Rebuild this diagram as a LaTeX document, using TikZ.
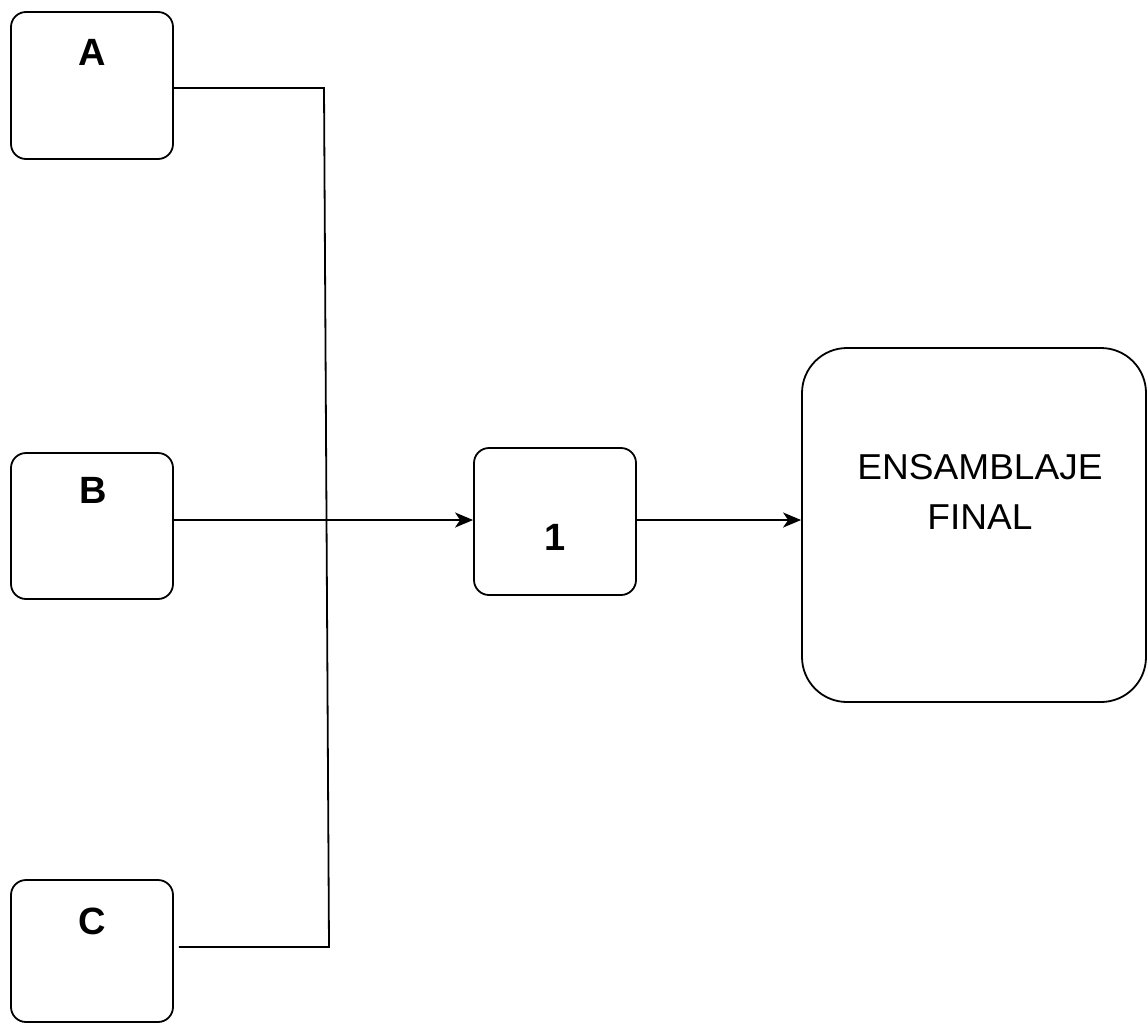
\documentclass[tikz,border=0pt]{standalone}
\usepackage{fontspec}
\setmainfont{Liberation Sans}
\usetikzlibrary{arrows.meta}
\begin{document}
\begin{tikzpicture}[x=1pt,y=-1pt,
  box/.style={draw,line width=1.8pt,rounded corners=15pt,inner sep=0pt},
  bigbox/.style={draw,line width=1.8pt,rounded corners=45pt,inner sep=0pt},
  lab/.style={font=\fontsize{38}{44}\selectfont\bfseries,inner sep=0pt},
  biglab/.style={font=\fontsize{36}{40}\selectfont,inner sep=0pt},
  wire/.style={line width=1.8pt},
  arr/.style={line width=1.8pt,-{Stealth[length=18pt,width=15pt,inset=5pt]}}]
\useasboundingbox (0,0) rectangle (1147,1023);
% boxes
\node[box,minimum width=162pt,minimum height=147pt] (A) at (92,85.5) {};
\node[box,minimum width=162pt,minimum height=146pt] (B) at (92,526) {};
\node[box,minimum width=162pt,minimum height=142pt] (C) at (92,951) {};
\node[box,minimum width=162pt,minimum height=147pt] (one) at (555,521.5) {};
\node[bigbox,minimum width=344pt,minimum height=354pt] (fin) at (974,525) {};
% labels
\node[lab] (Alab) at (92,52.5) {A};
\node[lab] (Blab) at (93,490) {B};
\node[lab] (Clab) at (92,921) {C};
\node[lab] (onelab) at (555,537) {1};
\node[biglab] (finlab1) at (980,467) {\scalebox{1.03}[1]{ENSAMBLAJE}};
\node[biglab] (finlab2) at (980,517) {\scalebox{1.03}[1]{FINAL}};
% connectors
\coordinate (j1) at (324,88);
\coordinate (j2) at (329,947);
\coordinate (m) at (0,520);
\draw[wire] (A.east |- j1) -- (j1) -- (j2) -- ([xshift=5pt]C.east |- j2);
\draw[arr] (B.east |- m) -- (one.west |- m);
\draw[arr] (one.east |- m) -- (fin.west |- m);
\end{tikzpicture}
\end{document}
